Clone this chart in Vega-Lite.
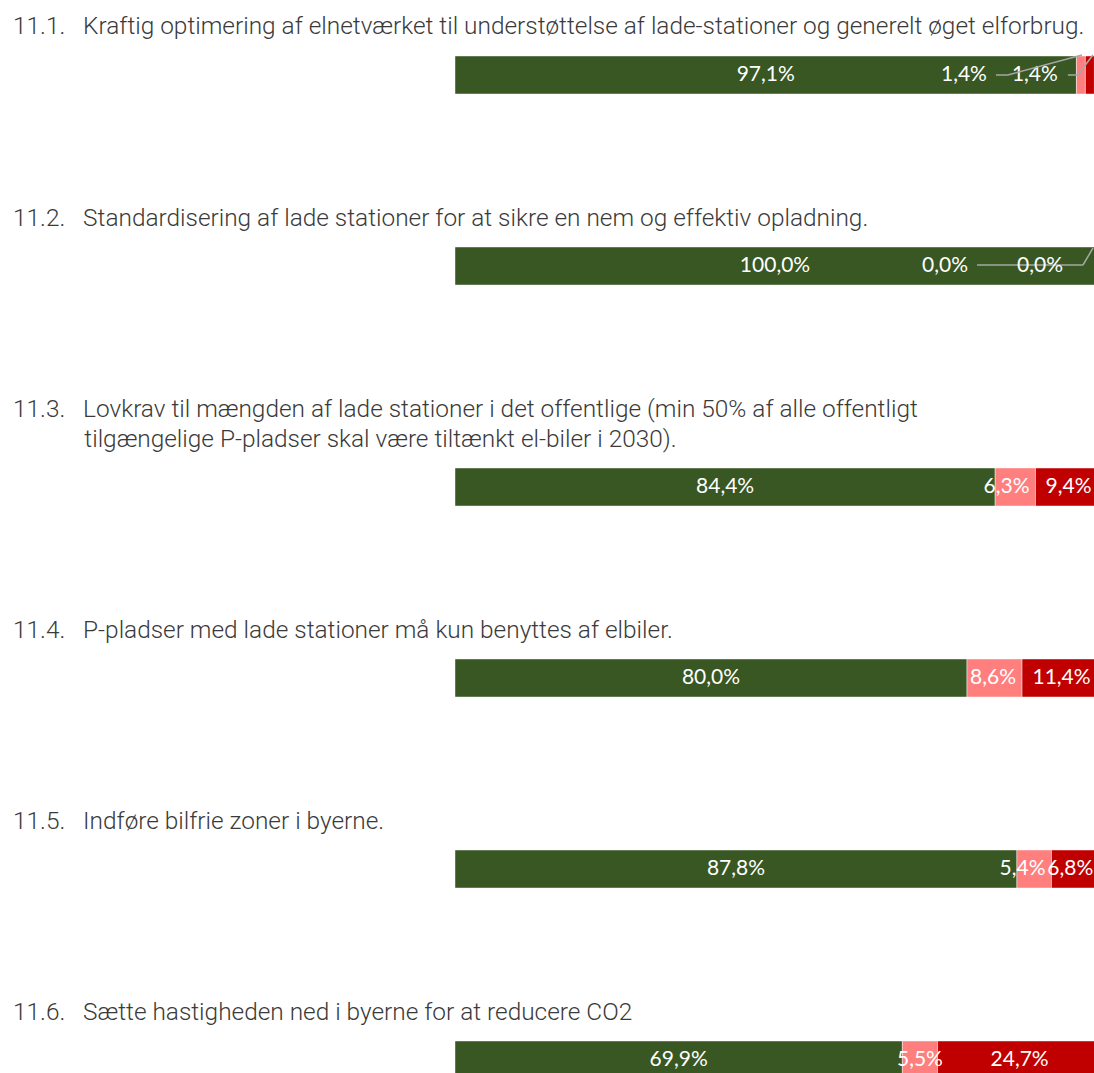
{
  "$schema": "https://vega.github.io/schema/vega-lite/v6.json",
  "autosize": {"type": "pad"},
  "padding": {"left": 13, "top": 13, "right": 0, "bottom": 0},
  "background": "white",
  "config": {
    "view": {"stroke": null},
    "concat": {"spacing": 111},
    "locale": {"number": {"decimal": ",", "thousands": ".", "grouping": [3], "currency": ["", " kr."]}},
    "title": {"font": "Roboto", "fontSize": 24.4, "fontWeight": 300, "color": "#3a3a3a", "anchor": "start", "frame": "group", "dx": -442, "offset": 15, "baseline": "bottom", "lineHeight": 30},
    "text": {"font": "Lato", "fontSize": 21, "color": "white", "baseline": "middle"}
  },
  "datasets": {
    "svar": [
      {"q": "11.1", "svar": "Enig", "idx": 1, "andel": 0.971},
      {"q": "11.1", "svar": "Hverken/eller", "idx": 2, "andel": 0.014},
      {"q": "11.1", "svar": "Uenig", "idx": 3, "andel": 0.014},
      {"q": "11.2", "svar": "Enig", "idx": 1, "andel": 1.0},
      {"q": "11.2", "svar": "Hverken/eller", "idx": 2, "andel": 0.0},
      {"q": "11.2", "svar": "Uenig", "idx": 3, "andel": 0.0},
      {"q": "11.3", "svar": "Enig", "idx": 1, "andel": 0.844},
      {"q": "11.3", "svar": "Hverken/eller", "idx": 2, "andel": 0.063},
      {"q": "11.3", "svar": "Uenig", "idx": 3, "andel": 0.094},
      {"q": "11.4", "svar": "Enig", "idx": 1, "andel": 0.8},
      {"q": "11.4", "svar": "Hverken/eller", "idx": 2, "andel": 0.086},
      {"q": "11.4", "svar": "Uenig", "idx": 3, "andel": 0.114},
      {"q": "11.5", "svar": "Enig", "idx": 1, "andel": 0.878},
      {"q": "11.5", "svar": "Hverken/eller", "idx": 2, "andel": 0.054},
      {"q": "11.5", "svar": "Uenig", "idx": 3, "andel": 0.068},
      {"q": "11.6", "svar": "Enig", "idx": 1, "andel": 0.699},
      {"q": "11.6", "svar": "Hverken/eller", "idx": 2, "andel": 0.055},
      {"q": "11.6", "svar": "Uenig", "idx": 3, "andel": 0.247}
    ]
  },
  "vconcat": [
    {
      "width": 640, "height": 38,
      "title": {"text": "11.1.\u00a0\u00a0 Kraftig optimering af elnetværket til understøttelse af lade-stationer og generelt øget elforbrug."},
      "data": {"name": "svar"},
      "transform": [
        {"filter": "datum.q == '11.1'"},
        {"stack": "andel", "groupby": ["q"], "sort": [{"field": "idx"}], "as": ["x0", "x1"]},
        {"calculate": "(datum.x0 + datum.x1) / 2", "as": "mid"}
      ],
      "encoding": {"y": {"field": "q", "type": "nominal", "axis": null, "scale": {"paddingInner": 0, "paddingOuter": 0}}},
      "layer": [
        {"mark": {"type": "bar", "stroke": "white", "strokeOpacity": 0.45, "strokeWidth": 1},
         "encoding": {
           "x": {"field": "x0", "type": "quantitative", "axis": null, "scale": {"domain": [0, 1], "nice": false}},
           "x2": {"field": "x1"},
           "color": {"field": "svar", "type": "nominal", "legend": null, "scale": {"domain": ["Enig", "Hverken/eller", "Uenig"], "range": ["#385723", "#ff7f7f", "#c00000"]}}
         }},
        {"transform": [{"filter": "datum.idx == 1"}], "mark": {"type": "text"},
         "encoding": {"x": {"field": "mid", "type": "quantitative"}, "text": {"field": "andel", "format": ".1%"}}},
        {"transform": [{"filter": "datum.idx == 2"}], "mark": {"type": "text", "align": "right", "dx": -94},
         "encoding": {"x": {"field": "mid", "type": "quantitative"}, "text": {"field": "andel", "format": ".1%"}}},
        {"transform": [{"filter": "datum.idx == 3"}], "mark": {"type": "text", "dx": -55},
         "encoding": {"x": {"field": "mid", "type": "quantitative"}, "text": {"field": "andel", "format": ".1%"}}},
        {"transform": [{"filter": "datum.idx == 2"}], "mark": {"type": "rule", "color": "#a6a6a6", "strokeWidth": 1.5, "xOffset": -85, "x2Offset": -73},
         "encoding": {"x": {"field": "mid", "type": "quantitative"}, "x2": {"field": "mid"}, "y": {"value": 19}, "y2": {"value": 19}}},
        {"transform": [{"filter": "datum.idx == 2"}], "mark": {"type": "rule", "color": "#a6a6a6", "strokeWidth": 1.5, "xOffset": -73, "x2Offset": 1},
         "encoding": {"x": {"field": "mid", "type": "quantitative"}, "x2": {"field": "mid"}, "y": {"value": 19}, "y2": {"value": -1}}},
        {"transform": [{"filter": "datum.idx == 3"}], "mark": {"type": "rule", "color": "#a6a6a6", "strokeWidth": 1.5, "xOffset": -22, "x2Offset": -12},
         "encoding": {"x": {"field": "mid", "type": "quantitative"}, "x2": {"field": "mid"}, "y": {"value": 19}, "y2": {"value": 19}}},
        {"transform": [{"filter": "datum.idx == 3"}], "mark": {"type": "rule", "color": "#a6a6a6", "strokeWidth": 1.5, "xOffset": -12, "x2Offset": 3},
         "encoding": {"x": {"field": "mid", "type": "quantitative"}, "x2": {"field": "mid"}, "y": {"value": 19}, "y2": {"value": -1}}}
      ]
    },
    {
      "width": 640, "height": 38,
      "title": {"text": "11.2.\u00a0\u00a0 Standardisering af lade stationer for at sikre en nem og effektiv opladning."},
      "data": {"name": "svar"},
      "transform": [
        {"filter": "datum.q == '11.2'"},
        {"stack": "andel", "groupby": ["q"], "sort": [{"field": "idx"}], "as": ["x0", "x1"]},
        {"calculate": "(datum.x0 + datum.x1) / 2", "as": "mid"}
      ],
      "encoding": {"y": {"field": "q", "type": "nominal", "axis": null, "scale": {"paddingInner": 0, "paddingOuter": 0}}},
      "layer": [
        {"mark": {"type": "bar", "stroke": "white", "strokeOpacity": 0.45, "strokeWidth": 1},
         "encoding": {
           "x": {"field": "x0", "type": "quantitative", "axis": null, "scale": {"domain": [0, 1], "nice": false}},
           "x2": {"field": "x1"},
           "color": {"field": "svar", "type": "nominal", "legend": null, "scale": {"domain": ["Enig", "Hverken/eller", "Uenig"], "range": ["#385723", "#ff7f7f", "#c00000"]}}
         }},
        {"transform": [{"filter": "datum.idx == 1"}], "mark": {"type": "text"},
         "encoding": {"x": {"field": "mid", "type": "quantitative"}, "text": {"field": "andel", "format": ".1%"}}},
        {"transform": [{"filter": "datum.idx == 2"}], "mark": {"type": "rule", "color": "#a6a6a6", "strokeWidth": 1.5, "xOffset": -118, "x2Offset": -12},
         "encoding": {"x": {"field": "mid", "type": "quantitative"}, "x2": {"field": "mid"}, "y": {"value": 18}, "y2": {"value": 18}}},
        {"transform": [{"filter": "datum.idx == 2"}], "mark": {"type": "rule", "color": "#a6a6a6", "strokeWidth": 1.5, "xOffset": -12, "x2Offset": -2},
         "encoding": {"x": {"field": "mid", "type": "quantitative"}, "x2": {"field": "mid"}, "y": {"value": 18}, "y2": {"value": 1}}},
        {"transform": [{"filter": "datum.idx == 2"}], "mark": {"type": "text", "align": "right", "dx": -127},
         "encoding": {"x": {"field": "mid", "type": "quantitative"}, "text": {"field": "andel", "format": ".1%"}}},
        {"transform": [{"filter": "datum.idx == 3"}], "mark": {"type": "text", "dx": -55},
         "encoding": {"x": {"field": "mid", "type": "quantitative"}, "text": {"field": "andel", "format": ".1%"}}}
      ]
    },
    {
      "width": 640, "height": 38,
      "title": {"text": ["11.3.\u00a0\u00a0 Lovkrav til mængden af lade stationer i det offentlige (min 50% af alle offentligt", "\u200b\u00a0\u00a0\u00a0\u00a0\u00a0\u00a0\u00a0\u00a0\u00a0\u00a0\u00a0\u00a0tilgængelige P-pladser skal være tiltænkt el-biler i 2030)."]},
      "data": {"name": "svar"},
      "transform": [
        {"filter": "datum.q == '11.3'"},
        {"stack": "andel", "groupby": ["q"], "sort": [{"field": "idx"}], "as": ["x0", "x1"]},
        {"calculate": "(datum.x0 + datum.x1) / 2", "as": "mid"}
      ],
      "encoding": {"y": {"field": "q", "type": "nominal", "axis": null, "scale": {"paddingInner": 0, "paddingOuter": 0}}},
      "layer": [
        {"mark": {"type": "bar", "stroke": "white", "strokeOpacity": 0.45, "strokeWidth": 1},
         "encoding": {
           "x": {"field": "x0", "type": "quantitative", "axis": null, "scale": {"domain": [0, 1], "nice": false}},
           "x2": {"field": "x1"},
           "color": {"field": "svar", "type": "nominal", "legend": null, "scale": {"domain": ["Enig", "Hverken/eller", "Uenig"], "range": ["#385723", "#ff7f7f", "#c00000"]}}
         }},
        {"transform": [{"filter": "datum.idx == 1"}], "mark": {"type": "text"},
         "encoding": {"x": {"field": "mid", "type": "quantitative"}, "text": {"field": "andel", "format": ".1%"}}},
        {"transform": [{"filter": "datum.idx == 2"}], "mark": {"type": "text", "align": "right", "dx": -6},
         "encoding": {"x": {"field": "x1", "type": "quantitative"}, "text": {"field": "andel", "format": ".1%"}}},
        {"transform": [{"filter": "datum.idx == 3"}], "mark": {"type": "text", "dx": 3},
         "encoding": {"x": {"field": "mid", "type": "quantitative"}, "text": {"field": "andel", "format": ".1%"}}}
      ]
    },
    {
      "width": 640, "height": 38,
      "title": {"text": "11.4.\u00a0\u00a0 P-pladser med lade stationer må kun benyttes af elbiler."},
      "data": {"name": "svar"},
      "transform": [
        {"filter": "datum.q == '11.4'"},
        {"stack": "andel", "groupby": ["q"], "sort": [{"field": "idx"}], "as": ["x0", "x1"]},
        {"calculate": "(datum.x0 + datum.x1) / 2", "as": "mid"}
      ],
      "encoding": {"y": {"field": "q", "type": "nominal", "axis": null, "scale": {"paddingInner": 0, "paddingOuter": 0}}},
      "layer": [
        {"mark": {"type": "bar", "stroke": "white", "strokeOpacity": 0.45, "strokeWidth": 1},
         "encoding": {
           "x": {"field": "x0", "type": "quantitative", "axis": null, "scale": {"domain": [0, 1], "nice": false}},
           "x2": {"field": "x1"},
           "color": {"field": "svar", "type": "nominal", "legend": null, "scale": {"domain": ["Enig", "Hverken/eller", "Uenig"], "range": ["#385723", "#ff7f7f", "#c00000"]}}
         }},
        {"transform": [{"filter": "datum.idx == 1"}], "mark": {"type": "text"},
         "encoding": {"x": {"field": "mid", "type": "quantitative"}, "text": {"field": "andel", "format": ".1%"}}},
        {"transform": [{"filter": "datum.idx == 2"}], "mark": {"type": "text", "align": "right", "dx": -6},
         "encoding": {"x": {"field": "x1", "type": "quantitative"}, "text": {"field": "andel", "format": ".1%"}}},
        {"transform": [{"filter": "datum.idx == 3"}], "mark": {"type": "text", "dx": 3},
         "encoding": {"x": {"field": "mid", "type": "quantitative"}, "text": {"field": "andel", "format": ".1%"}}}
      ]
    },
    {
      "width": 640, "height": 38,
      "title": {"text": "11.5.\u00a0\u00a0 Indføre bilfrie zoner i byerne."},
      "data": {"name": "svar"},
      "transform": [
        {"filter": "datum.q == '11.5'"},
        {"stack": "andel", "groupby": ["q"], "sort": [{"field": "idx"}], "as": ["x0", "x1"]},
        {"calculate": "(datum.x0 + datum.x1) / 2", "as": "mid"}
      ],
      "encoding": {"y": {"field": "q", "type": "nominal", "axis": null, "scale": {"paddingInner": 0, "paddingOuter": 0}}},
      "layer": [
        {"mark": {"type": "bar", "stroke": "white", "strokeOpacity": 0.45, "strokeWidth": 1},
         "encoding": {
           "x": {"field": "x0", "type": "quantitative", "axis": null, "scale": {"domain": [0, 1], "nice": false}},
           "x2": {"field": "x1"},
           "color": {"field": "svar", "type": "nominal", "legend": null, "scale": {"domain": ["Enig", "Hverken/eller", "Uenig"], "range": ["#385723", "#ff7f7f", "#c00000"]}}
         }},
        {"transform": [{"filter": "datum.idx == 1"}], "mark": {"type": "text"},
         "encoding": {"x": {"field": "mid", "type": "quantitative"}, "text": {"field": "andel", "format": ".1%"}}},
        {"transform": [{"filter": "datum.idx == 2"}], "mark": {"type": "text", "align": "right", "dx": -6},
         "encoding": {"x": {"field": "x1", "type": "quantitative"}, "text": {"field": "andel", "format": ".1%"}}},
        {"transform": [{"filter": "datum.idx == 3"}], "mark": {"type": "text", "dx": -3},
         "encoding": {"x": {"field": "mid", "type": "quantitative"}, "text": {"field": "andel", "format": ".1%"}}}
      ]
    },
    {
      "width": 640, "height": 38,
      "title": {"text": "11.6.\u00a0\u00a0 Sætte hastigheden ned i byerne for at reducere CO2"},
      "data": {"name": "svar"},
      "transform": [
        {"filter": "datum.q == '11.6'"},
        {"stack": "andel", "groupby": ["q"], "sort": [{"field": "idx"}], "as": ["x0", "x1"]},
        {"calculate": "(datum.x0 + datum.x1) / 2", "as": "mid"}
      ],
      "encoding": {"y": {"field": "q", "type": "nominal", "axis": null, "scale": {"paddingInner": 0, "paddingOuter": 0}}},
      "layer": [
        {"mark": {"type": "bar", "stroke": "white", "strokeOpacity": 0.45, "strokeWidth": 1},
         "encoding": {
           "x": {"field": "x0", "type": "quantitative", "axis": null, "scale": {"domain": [0, 1], "nice": false}},
           "x2": {"field": "x1"},
           "color": {"field": "svar", "type": "nominal", "legend": null, "scale": {"domain": ["Enig", "Hverken/eller", "Uenig"], "range": ["#385723", "#ff7f7f", "#c00000"]}}
         }},
        {"transform": [{"filter": "datum.idx == 1"}], "mark": {"type": "text"},
         "encoding": {"x": {"field": "mid", "type": "quantitative"}, "text": {"field": "andel", "format": ".1%"}}},
        {"transform": [{"filter": "datum.idx == 2"}], "mark": {"type": "text"},
         "encoding": {"x": {"field": "mid", "type": "quantitative"}, "text": {"field": "andel", "format": ".1%"}}},
        {"transform": [{"filter": "datum.idx == 3"}], "mark": {"type": "text", "dx": 3},
         "encoding": {"x": {"field": "mid", "type": "quantitative"}, "text": {"field": "andel", "format": ".1%"}}}
      ]
    }
  ]
}
